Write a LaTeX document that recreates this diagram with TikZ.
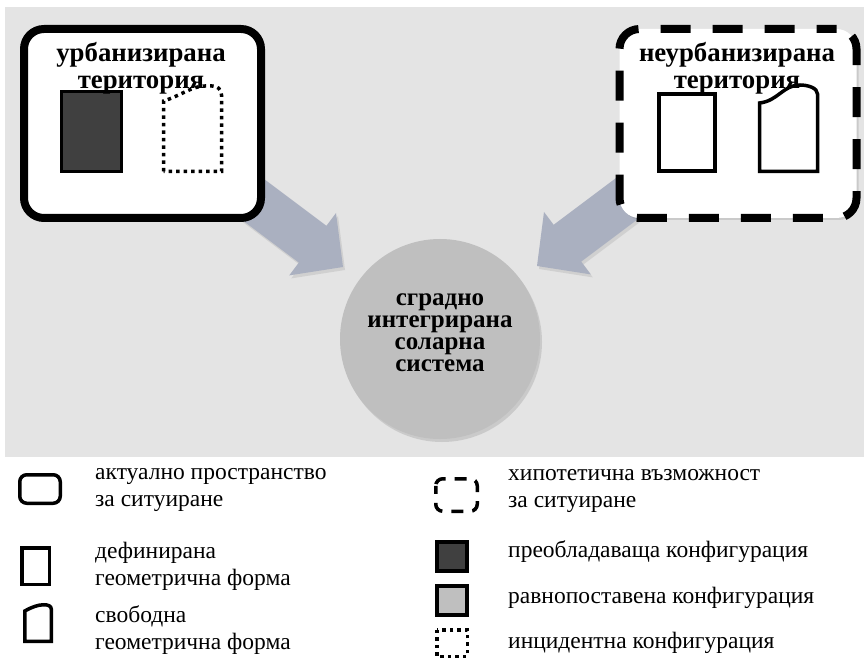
\documentclass[tikz,border=0pt]{standalone}
\usepackage{fontspec}
\setmainfont{Liberation Serif}
\usetikzlibrary{shadows}
\definecolor{bggray}{HTML}{E4E4E4}
\definecolor{arrowc}{HTML}{AAB0C0}
\definecolor{darkfill}{HTML}{404040}
\definecolor{lightfill}{HTML}{BFBFBF}
\tikzset{
  area/.style={draw=black, line width=8pt, fill=white, rounded corners=20pt, minimum width=237pt, minimum height=189pt, inner sep=0pt, drop shadow={opacity=0.25, shadow xshift=2pt, shadow yshift=-2pt}},
  areadash/.style={area, dash pattern=on 30pt off 22pt, dash phase=10pt},
  titletext/.style={font=\fontsize{26.8}{27}\selectfont\bfseries, align=center, inner sep=0pt},
  circtext/.style={font=\fontsize{25}{22}\selectfont\bfseries, align=center, inner sep=0pt},
  legtext/.style={font=\fontsize{23.5}{27}\selectfont, align=left, anchor=west, inner sep=0pt},
  blockarrow/.style={fill=arrowc, drop shadow={opacity=0.2, shadow xshift=2pt, shadow yshift=-3pt}},
  formline/.style={draw=black, line width=3.5pt},
  dotline/.style={draw=black, line width=3.5pt, dash pattern=on 3.5pt off 4pt},
}
\begin{document}
\begin{tikzpicture}[x=1pt,y=-1pt]
\useasboundingbox (0,0) rectangle (864,660);
\fill[white] (0,0) rectangle (864,660);
\fill[bggray] (5,7) rectangle (864,457);

% arrows
\path[blockarrow] (209.2,195.4) -- (298.8,262.6) -- (289.2,275.4) -- (343,267) -- (336,213) -- (326.4,225.8) -- (236.8,158.6) -- cycle;
\path[blockarrow] (670.8,194.4) -- (581.2,261.6) -- (590.8,274.4) -- (537,266) -- (544,212) -- (553.6,224.8) -- (643.2,157.6) -- cycle;

% boxes
\node[area] (urb) at (142.5,123.5) {};
\node[areadash] (neurb) at (738,123.5) {};

% circle
\node[circle, fill=lightfill, minimum size=200pt, inner sep=0pt, drop shadow={opacity=0.25, shadow xshift=2pt, shadow yshift=-3pt}] (sys) at (440,339) {};
\node[circtext] (systext) at (440,333) {сградно\\интегрирана\\соларна\\система};

% left box content
\draw[formline, fill=darkfill, line width=3pt] (61.5,91.5) rectangle (121.5,171.5);
\draw[dotline] (163.5,171.5) -- (163.5,101) .. controls (180,96) and (192,86) .. (205,86) -- (212,86) .. controls (217,86) and (221.5,89) .. (221.5,95) -- (221.5,171.5) -- cycle;
\node[titletext] (urbtitle) at (141,68) {урбанизирана\\територия};

% right box content
\draw[formline] (659,94) rectangle (715,171);
\draw[formline] (759.5,171.5) -- (759.5,103) .. controls (778,101) and (783,85) .. (800,85) .. controls (808,85) and (817.5,88) .. (817.5,94) -- (817.5,171.5) -- cycle;
\node[titletext] (neurbtitle) at (737,68) {неурбанизирана\\територия};

% legend left
\draw[formline, rounded corners=7pt] (19.75,474.75) rectangle (60.25,503.25);
\node[legtext] (l1) at (95,490) {актуално пространство\\за ситуиране};
\draw[formline] (21.75,547.75) rectangle (49.25,584.25);
\node[legtext] (l2) at (95,566) {дефинирана\\геометрична форма};
\draw[formline] (24.75,641.25) -- (24.75,611) .. controls (32,607) and (38,604.75) .. (44,604.75) .. controls (48,604.75) and (51.25,606) .. (51.25,609) -- (51.25,641.25) -- cycle;
\node[legtext] (l3) at (95,630) {свободна\\геометрична форма};

% legend right
\draw[formline, rounded corners=7pt, dash pattern=on 12pt off 9pt, dash phase=4pt] (435.75,478.75) rectangle (477.25,511.25);
\node[legtext] (r1) at (508,491) {хипотетична възможност\\за ситуиране};
\draw[formline, fill=darkfill, line width=4pt] (437,542) rectangle (467,571);
\node[legtext] (r2) at (508,552) {преобладаваща конфигурация};
\draw[formline, fill=lightfill, line width=4pt] (437,586) rectangle (467,615);
\node[legtext] (r3) at (508,598) {равнопоставена конфигурация};
\draw[dotline] (436.75,629.75) rectangle (467.25,656.25);
\node[legtext] (r4) at (508,643) {инцидентна конфигурация};
\end{tikzpicture}
\end{document}
